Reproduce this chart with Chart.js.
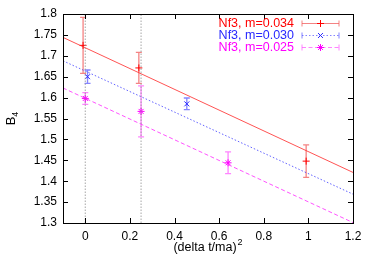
<!DOCTYPE html>
<html><head><meta charset="utf-8">
<script src="https://cdn.jsdelivr.net/npm/chart.js@4/dist/chart.umd.min.js"></script>
<style>html,body{margin:0;padding:0;background:#fff}</style>
</head><body>
<canvas id="c" width="374" height="261"></canvas>
<script>
// ---- data ----
const xTicks = [0, 0.2, 0.4, 0.6, 0.8, 1.0, 1.2];
const yTicks = [1.3, 1.35, 1.4, 1.45, 1.5, 1.55, 1.6, 1.65, 1.7, 1.75, 1.8];
const seriesLabels = ['Nf3, m=0.034', 'Nf3, m=0.030', 'Nf3, m=0.025'];

const redX = [-0.01, 0.24, 0.99];
const redY = [1.725, 1.671, 1.448];
const redErr = [0.067, 0.037, 0.039];

const blueX = [0.01, 0.455];
const blueY = [1.65, 1.585];
const blueErr = [0.016, 0.014];

const magX = [0.0, 0.25, 0.64];
const magY = [1.598, 1.567, 1.444];
const magErr = [0.014, 0.061, 0.026];

const fitX = [-0.1, 1.2];
const redFit = [1.744, 1.421];
const blueFit = [1.688, 1.369];
const magFit = [1.623, 1.301];

const guideX = [0, 0.25];
const guideY = [1.3, 1.8];

// ---- styles ----
const FONT = 'Liberation Sans, Arial, Helvetica, sans-serif';
const RED = 'rgb(255,0,0)', BLUE = 'rgb(40,40,255)', MAG = 'rgb(255,0,255)';
const series = [
  {x: redX, y: redY, e: redErr, fit: redFit, color: RED, line: 'rgba(255,40,40,0.8)', dash: [], style: 'cross', bar: 'rgba(240,90,90,0.75)'},
  {x: blueX, y: blueY, e: blueErr, fit: blueFit, color: BLUE, line: 'rgba(60,60,255,0.8)', dash: [1.5, 2], style: 'crossRot', bar: 'rgba(80,80,255,0.7)'},
  {x: magX, y: magY, e: magErr, fit: magFit, color: MAG, line: 'rgba(255,40,255,0.8)', dash: [4, 2.5], style: 'star', bar: 'rgba(255,80,255,0.7)'}
];
const zip = (xs, ys) => xs.map((v, i) => ({x: v, y: ys[i]}));

const datasets = [];
guideX.forEach(gx => datasets.push({
  type: 'line', data: guideY.map(gy => ({x: gx, y: gy})),
  borderColor: 'rgba(150,150,150,0.7)', borderWidth: 1.2, borderDash: [1.5, 1.5],
  pointRadius: 0, fill: false
}));
series.forEach(s => {
  datasets.push({type: 'line', data: zip(fitX, s.fit), borderColor: s.line, borderWidth: 1,
    borderDash: s.dash, pointRadius: 0, fill: false});
});
series.forEach(s => {
  datasets.push({type: 'scatter', data: zip(s.x, s.y), showLine: false, pointStyle: s.style,
    pointRadius: 3.5, borderColor: s.color, backgroundColor: s.color, pointBorderWidth: 1});
});

const decor = {
  id: 'decor',
  beforeDatasetsDraw(chart) {
    const ctx = chart.ctx, xs = chart.scales.x, ys = chart.scales.y;
    ctx.save();
    series.forEach(s => {
      ctx.strokeStyle = s.bar; ctx.lineWidth = 1.3; ctx.setLineDash([]);
      s.x.forEach((xv, i) => {
        const px = xs.getPixelForValue(xv);
        const p1 = ys.getPixelForValue(s.y[i] + s.e[i]);
        const p2 = ys.getPixelForValue(s.y[i] - s.e[i]);
        ctx.beginPath();
        ctx.moveTo(px, p1); ctx.lineTo(px, p2);
        ctx.moveTo(px - 3, p1); ctx.lineTo(px + 3, p1);
        ctx.moveTo(px - 3, p2); ctx.lineTo(px + 3, p2);
        ctx.stroke();
      });
    });
    ctx.restore();
  },
  afterDatasetsDraw(chart) {
    const ctx = chart.ctx, a = chart.chartArea, xs = chart.scales.x, ys = chart.scales.y;
    ctx.save();
    // frame
    ctx.strokeStyle = '#000'; ctx.lineWidth = 1; ctx.setLineDash([]);
    ctx.strokeRect(Math.round(a.left) + 0.5, Math.round(a.top) + 0.5,
      Math.round(a.right - a.left), Math.round(a.bottom - a.top));
    // inside ticks
    ctx.beginPath();
    const T = 5;
    xTicks.forEach(v => {
      const px = Math.round(xs.getPixelForValue(v)) + 0.5;
      ctx.moveTo(px, a.bottom); ctx.lineTo(px, a.bottom - T);
      ctx.moveTo(px, a.top); ctx.lineTo(px, a.top + T);
    });
    yTicks.forEach(v => {
      const py = Math.round(ys.getPixelForValue(v)) + 0.5;
      ctx.moveTo(a.left, py); ctx.lineTo(a.left + T, py);
      ctx.moveTo(a.right, py); ctx.lineTo(a.right - T, py);
    });
    ctx.stroke();
    // legend
    const rows = [23.5, 35.5, 47.5];
    ctx.font = '12.5px ' + FONT;
    ctx.textAlign = 'right'; ctx.textBaseline = 'middle';
    series.forEach((s, i) => {
      const y = rows[i];
      ctx.fillStyle = s.color;
      ctx.fillText(seriesLabels[i], 294, y + 0.5);
      ctx.strokeStyle = s.bar; ctx.lineWidth = 1; ctx.setLineDash(s.dash);
      ctx.beginPath(); ctx.moveTo(302, y); ctx.lineTo(339, y); ctx.stroke();
      ctx.setLineDash([]);
      ctx.beginPath();
      ctx.moveTo(302, y - 3); ctx.lineTo(302, y + 3);
      ctx.moveTo(339, y - 3); ctx.lineTo(339, y + 3);
      ctx.stroke();
      ctx.strokeStyle = s.color; ctx.fillStyle = s.color; ctx.lineWidth = 1;
      Chart.helpers.drawPoint(ctx, {pointStyle: s.style, rotation: 0, radius: 3.5, borderWidth: 1,
        borderColor: s.color, backgroundColor: s.color}, 320.5, y);
    });
    ctx.restore();
  },
  afterDraw(chart) {
    const ctx = chart.ctx, a = chart.chartArea;
    ctx.save();
    ctx.fillStyle = '#000';
    ctx.textBaseline = 'alphabetic'; ctx.textAlign = 'left';
    // x title
    ctx.font = '12.5px ' + FONT;
    const main = '(delta t/ma)';
    const w1 = ctx.measureText(main).width;
    ctx.font = '9px ' + FONT;
    const w2 = ctx.measureText('2').width;
    const cx = (a.left + a.right) / 2;
    const sx = cx - (w1 + w2 + 1) / 2;
    ctx.font = '12.5px ' + FONT;
    ctx.fillText(main, sx, 251);
    ctx.font = '9px ' + FONT;
    ctx.fillText('2', sx + w1 + 1, 245);
    // y title
    ctx.translate(15, (a.top + a.bottom) / 2);
    ctx.rotate(-Math.PI / 2);
    ctx.font = '13px ' + FONT;
    const b1 = ctx.measureText('B').width;
    ctx.font = '9px ' + FONT;
    const b2 = ctx.measureText('4').width;
    const st = -(b1 + b2) / 2;
    ctx.font = '13px ' + FONT;
    ctx.fillText('B', st, 0);
    ctx.font = '9px ' + FONT;
    ctx.fillText('4', st + b1, 3);
    ctx.restore();
  }
};

const fmt = v => String(+Number(v).toFixed(2));

new Chart(document.getElementById('c'), {
  type: 'scatter',
  data: {datasets},
  options: {
    responsive: false, animation: false, devicePixelRatio: 1,
    layout: {padding: {top: 14, right: 21, left: 0, bottom: 0}},
    plugins: {legend: {display: false}, tooltip: {enabled: false}},
    scales: {
      x: {
        type: 'linear', min: -0.1, max: 1.2,
        afterBuildTicks: s => { s.ticks = xTicks.map(v => ({value: v})); },
        afterFit: s => { s.height = 38; },
        ticks: {callback: fmt, color: '#000', font: {family: FONT, size: 12}, padding: 6, maxRotation: 0, autoSkip: false},
        grid: {display: false, drawTicks: false},
        border: {display: false}
      },
      y: {
        type: 'linear', min: 1.3, max: 1.8,
        afterBuildTicks: s => { s.ticks = yTicks.map(v => ({value: v})); },
        afterFit: s => { s.width = 63; },
        ticks: {callback: fmt, color: '#000', font: {family: FONT, size: 12}, padding: 6, autoSkip: false},
        grid: {display: false, drawTicks: false},
        border: {display: false}
      }
    }
  },
  plugins: [decor]
});
</script>
</body></html>
